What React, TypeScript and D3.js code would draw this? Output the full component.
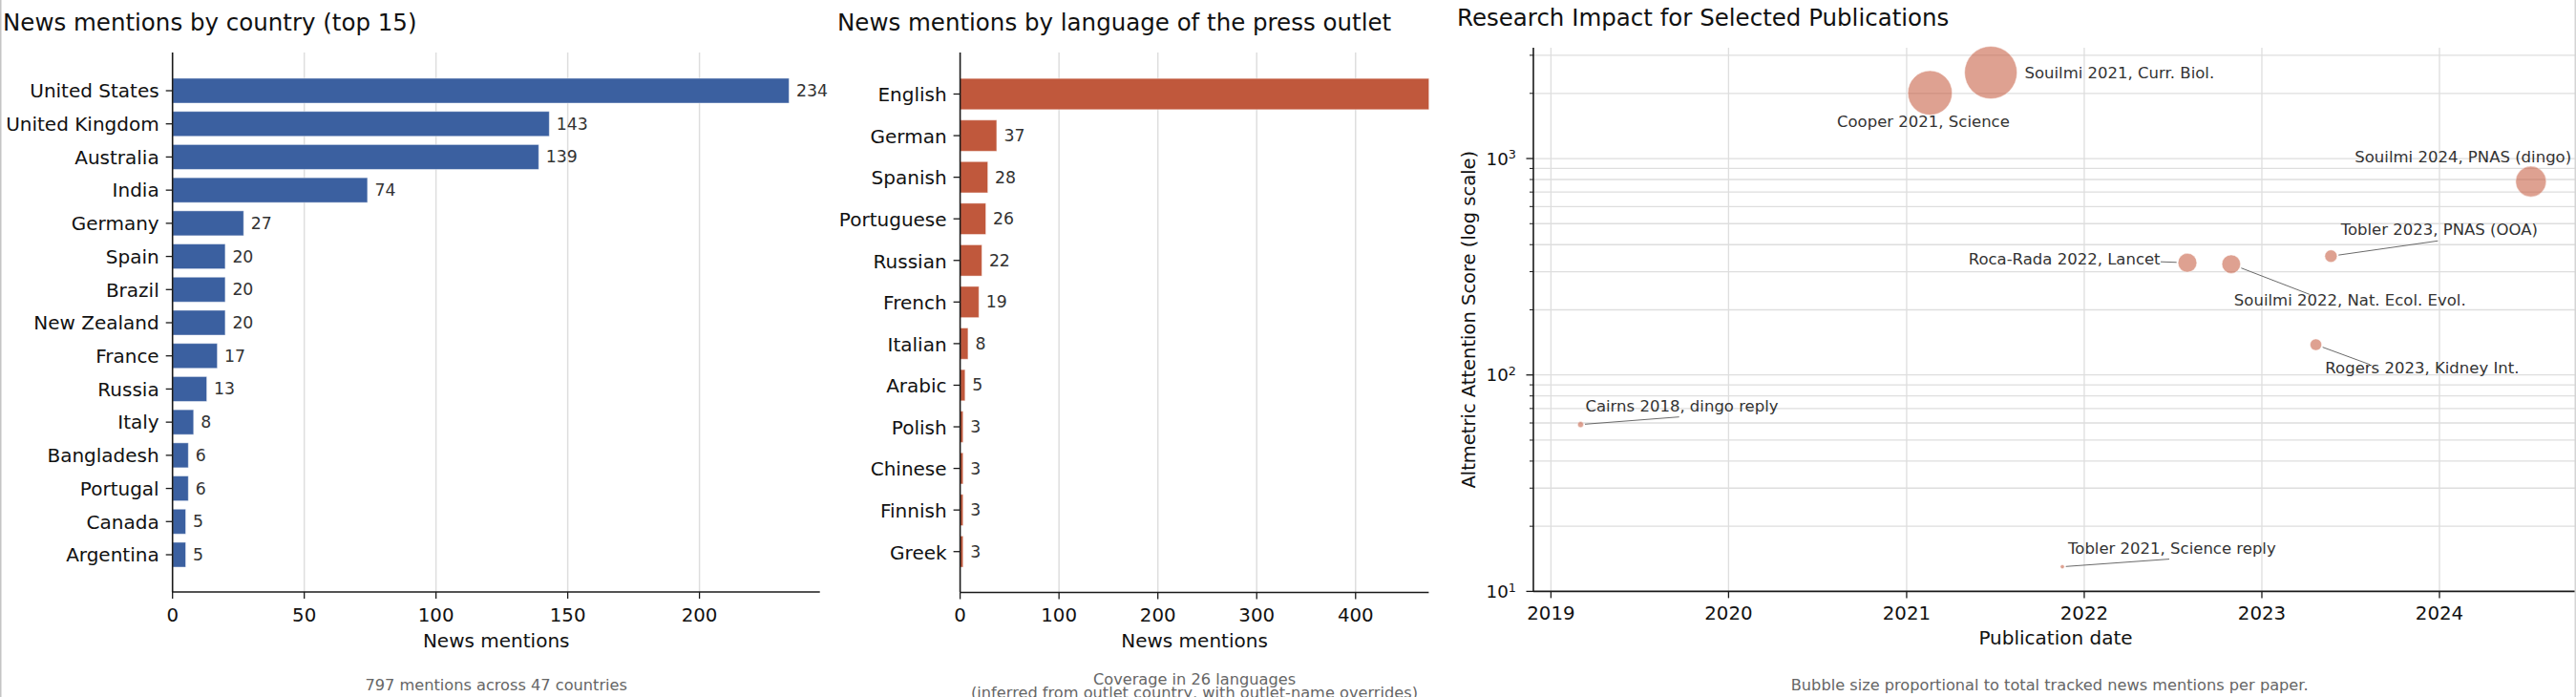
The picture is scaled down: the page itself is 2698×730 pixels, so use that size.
import React from "react";
import * as d3 from "d3";

// ---------------- DATA ----------------
const countries = [
  "United States", "United Kingdom", "Australia", "India", "Germany", "Spain", "Brazil",
  "New Zealand", "France", "Russia", "Italy", "Bangladesh", "Portugal", "Canada", "Argentina",
];
const countryMentions = [234, 143, 139, 74, 27, 20, 20, 20, 17, 13, 8, 6, 6, 5, 5];
const countryTicks = [0, 50, 100, 150, 200];

const languages = [
  "English", "German", "Spanish", "Portuguese", "Russian", "French", "Italian", "Arabic",
  "Polish", "Chinese", "Finnish", "Greek",
];
const languageMentions = [620, 37, 28, 26, 22, 19, 8, 5, 3, 3, 3, 3];
const languageTicks = [0, 100, 200, 300, 400];

const paperLabels = [
  "Cooper 2021, Science",
  "Souilmi 2021, Curr. Biol.",
  "Souilmi 2024, PNAS (dingo)",
  "Tobler 2023, PNAS (OOA)",
  "Roca-Rada 2022, Lancet",
  "Souilmi 2022, Nat. Ecol. Evol.",
  "Rogers 2023, Kidney Int.",
  "Cairns 2018, dingo reply",
  "Tobler 2021, Science reply",
];
const paperDates = [
  "2021-02-18", "2021-06-23", "2024-07-07", "2023-05-23", "2022-08-01",
  "2022-10-30", "2023-04-22", "2019-03-03", "2021-11-17",
];
const paperScores = [2010, 2495, 783, 354, 330, 325, 138, 59, 13];
const paperMentions = [233, 327, 111, 18, 42, 41, 16, 4, 2];
const yearTicks = [2019, 2020, 2021, 2022, 2023, 2024];
const scoreMajorTicks = [10, 100, 1000];
const scoreMajorExp = ["1", "2", "3"];

// label placement (pixel offsets from bubble centre) – layout only
const labelLayout = [
  { anchor: "middle", dx: -7, dy: 35.4 },
  { anchor: "start", dx: 35.4, dy: 5.7 },
  { anchor: "start", dx: -184.5, dy: -20 },
  { anchor: "start", dx: 10.3, dy: -22.3, lx: 112, ly: -16 },
  { anchor: "end", dx: -28.4, dy: 2.3, lx: -28, ly: -1 },
  { anchor: "start", dx: 3, dy: 43.3, lx: 82, ly: 31.6 },
  { anchor: "start", dx: 9.8, dy: 29.7, lx: 56.3, ly: 20.7 },
  { anchor: "start", dx: 4.9, dy: -13.3, lx: 103.2, ly: -8 },
  { anchor: "start", dx: 6, dy: -14, lx: 112, ly: -8 },
];

// ---------------- STYLE ----------------
const FONT = "'DejaVu Sans', Verdana, sans-serif";
const BLUE = "#3b60a0";
const RUST = "#c0583c";
const GRID = "#dedede";
const AXIS = "#1a1a1a";
const TXT = "#111";
const VAL = "#333";
const FOOT = "#666";

const W = 2698;
const H = 730;

function BarPanel({
  cats, vals, ticks, xDomain, left, right, top, bottom, bandTop, bandBottom, color,
  title, titleX, footLines, footY, footGap, labelDy, clipId, clipRight,
}: any) {
  const x = d3.scaleLinear().domain(xDomain).range([left, right]);
  const y = d3.scaleBand().domain(cats).range([bandTop, bandBottom]).paddingInner(0.25).paddingOuter(0.125);
  const bw = y.bandwidth();
  const cx = (left + right) / 2;
  return (
    <g>
      <defs>
        <clipPath id={clipId + "-ax"}>
          <rect x={left} y={top} width={right - left} height={bottom - top} />
        </clipPath>
        <clipPath id={clipId + "-panel"}>
          <rect x={0} y={0} width={clipRight} height={H} />
        </clipPath>
      </defs>
      <text x={titleX} y={31.7} fontSize={24.5} fill={TXT} fontFamily={FONT}>{title}</text>
      {ticks.filter((t: number) => t > 0).map((t: number) => (
        <line key={"g" + t} x1={x(t)} x2={x(t)} y1={top} y2={bottom} stroke={GRID} strokeWidth={1.5} />
      ))}
      <g clipPath={`url(#${clipId}-ax)`}>
        {cats.map((c: string, i: number) => (
          <rect key={c} x={x(0)} y={y(c)} width={Math.max(0, x(vals[i]) - x(0))} height={bw}
            fill={color} stroke="#fff" strokeOpacity={0.45} strokeWidth={1} />
        ))}
      </g>
      <g clipPath={`url(#${clipId}-panel)`}>
        {cats.map((c: string, i: number) => (
          <text key={"v" + c} x={x(vals[i]) + 7.5} y={(y(c) as number) + bw / 2 + 6}
            fontSize={17.3} fill={VAL} fontFamily={FONT}>{vals[i]}</text>
        ))}
      </g>
      {cats.map((c: string) => {
        const cy = (y(c) as number) + bw / 2;
        return (
          <g key={"t" + c}>
            <line x1={left - 7} x2={left} y1={cy} y2={cy} stroke={AXIS} strokeWidth={1.3} />
            <text x={left - 14} y={cy + labelDy} textAnchor="end" fontSize={20} fill={TXT} fontFamily={FONT}>{c}</text>
          </g>
        );
      })}
      {ticks.map((t: number) => (
        <g key={"x" + t}>
          <line x1={x(t)} x2={x(t)} y1={bottom} y2={bottom + 7} stroke={AXIS} strokeWidth={1.3} />
          <text x={x(t)} y={650.7} textAnchor="middle" fontSize={19.8} fill={TXT} fontFamily={FONT}>{t}</text>
        </g>
      ))}
      <line x1={left} x2={left} y1={top} y2={bottom} stroke={AXIS} strokeWidth={1.6} />
      <line x1={left} x2={right} y1={bottom} y2={bottom} stroke={AXIS} strokeWidth={1.6} />
      <text x={cx} y={678} textAnchor="middle" fontSize={20} fill={TXT} fontFamily={FONT}>News mentions</text>
      {footLines.map((l: string, i: number) => (
        <text key={l} x={cx} y={footY + i * (footGap || 18.8)} textAnchor="middle" fontSize={16.2} fill={FOOT} fontFamily={FONT}>{l}</text>
      ))}
    </g>
  );
}

function BubblePanel() {
  const left = 1606, right = 2698, top = 50, bottom = 619.4;
  const x = d3.scaleTime()
    .domain([new Date(2019, 0, 1), new Date(2024, 0, 1)])
    .range([1624.4, 2555]);
  const y = d3.scaleLog().domain([10, 3250]).range([bottom, top]);
  const r = d3.scaleSqrt().domain([0, 327]).range([0, 27.5]);
  const gridY = y.ticks().filter((v) => v > 10 && v <= 3250);
  const minorY = y.ticks().filter((v) => !scoreMajorTicks.includes(v));
  const pts = paperLabels.map((label, i) => {
    const [yy, mm, dd] = paperDates[i].split("-").map(Number);
    return {
      label,
      cx: x(new Date(yy, mm - 1, dd)),
      cy: y(paperScores[i]),
      rr: r(paperMentions[i]),
      lay: labelLayout[i] as any,
    };
  });
  const order = pts.slice().sort((a, b) => b.rr - a.rr);
  return (
    <g>
      <text x={1526} y={26.5} fontSize={24.5} fill={TXT} fontFamily={FONT}>Research Impact for Selected Publications</text>
      {yearTicks.map((yr) => {
        const px = x(new Date(yr, 0, 1));
        return <line key={"gx" + yr} x1={px} x2={px} y1={top} y2={bottom} stroke={GRID} strokeWidth={1.3} />;
      })}
      {gridY.map((v) => (
        <line key={"gy" + v} x1={left} x2={right} y1={y(v)} y2={y(v)} stroke={GRID} strokeWidth={1.3} />
      ))}
      {/* leader lines */}
      {pts.map((p) => {
        if (p.lay.lx === undefined) return null;
        const ex = p.cx + p.lay.lx, ey = p.cy + p.lay.ly;
        const dx = ex - p.cx, dy = ey - p.cy;
        const len = Math.hypot(dx, dy);
        const sx = p.cx + (dx / len) * (p.rr + 1.5);
        const sy = p.cy + (dy / len) * (p.rr + 1.5);
        return <line key={"l" + p.label} x1={sx} y1={sy} x2={ex} y2={ey} stroke="#6a6a6a" strokeWidth={1} />;
      })}
      {order.map((p) => (
        <circle key={"c" + p.label} cx={p.cx} cy={p.cy} r={Math.max(p.rr, 1.6)} fill="#c55a3d" fillOpacity={0.57}
          stroke="#fff" strokeOpacity={0.6} strokeWidth={0.8} />
      ))}
      {pts.map((p) => (
        <text key={"t" + p.label} x={p.cx + p.lay.dx} y={p.cy + p.lay.dy} textAnchor={p.lay.anchor}
          fontSize={16.5} fill={VAL} fontFamily={FONT}>{p.label}</text>
      ))}
      {/* y axis */}
      {minorY.map((v) => (
        <line key={"my" + v} x1={left - 4} x2={left} y1={y(v)} y2={y(v)} stroke={AXIS} strokeWidth={1} />
      ))}
      {scoreMajorTicks.map((v, i) => (
        <g key={"My" + v}>
          <line x1={left - 7.5} x2={left} y1={y(v)} y2={y(v)} stroke={AXIS} strokeWidth={1.3} />
          <text x={1588} y={y(v) + 6.7} textAnchor="end" fill={TXT} fontFamily={FONT} fontSize={18.3}>
            10<tspan fontSize={12.8} dy={-6.5}>{scoreMajorExp[i]}</tspan>
          </text>
        </g>
      ))}
      {yearTicks.map((yr) => {
        const px = x(new Date(yr, 0, 1));
        return (
          <g key={"xt" + yr}>
            <line x1={px} x2={px} y1={bottom} y2={bottom + 7} stroke={AXIS} strokeWidth={1.3} />
            <text x={px} y={648.5} textAnchor="middle" fontSize={19.8} fill={TXT} fontFamily={FONT}>{yr}</text>
          </g>
        );
      })}
      <line x1={left} x2={left} y1={top} y2={bottom} stroke={AXIS} strokeWidth={1.6} />
      <line x1={left} x2={right} y1={bottom} y2={bottom} stroke={AXIS} strokeWidth={1.6} />
      <text x={2153} y={675} textAnchor="middle" fontSize={20} fill={TXT} fontFamily={FONT}>Publication date</text>
      <text transform={`translate(1544.5, ${(top + bottom) / 2}) rotate(-90)`} textAnchor="middle" fontSize={19.5}
        fill={TXT} fontFamily={FONT}>Altmetric Attention Score (log scale)</text>
      <text x={2146.7} y={722.7} textAnchor="middle" fontSize={16.2} fill={FOOT} fontFamily={FONT}>
        Bubble size proportional to total tracked news mentions per paper.
      </text>
    </g>
  );
}

export default function App() {
  return (
    <div style={{ position: "absolute", left: 0, top: 0, width: W, height: H, background: "#fff" }}>
      <svg width={W} height={H} viewBox={`0 0 ${W} ${H}`} style={{ display: "block" }}>
        <rect x={0} y={0} width={W} height={H} fill="#fff" />
        <BarPanel
          cats={countries} vals={countryMentions} ticks={countryTicks} xDomain={[0, 245.7]}
          left={180.7} right={858.7} top={55} bottom={620} bandTop={77.65} bandBottom={598.35}
          color={BLUE} title="News mentions by country (top 15)" titleX={3}
          footLines={["797 mentions across 47 countries"]} footY={722.7} labelDy={7.3}
          clipId="p1" clipRight={2698}
        />
        <BarPanel
          cats={languages} vals={languageMentions} ticks={languageTicks} xDomain={[0, 474]}
          left={1005.6} right={1496.4} top={55} bottom={620.5} bandTop={76.7} bandBottom={599.5}
          color={RUST} title="News mentions by language of the press outlet" titleX={877}
          footLines={["Coverage in 26 languages", "(inferred from outlet country, with outlet-name overrides)"]}
          footY={716.5} footGap={14} labelDy={7.8} clipId="p2" clipRight={1515}
        />
        <BubblePanel />
        <line x1={0.75} x2={0.75} y1={0} y2={H} stroke="#c4c4c4" strokeWidth={1.5} />
        <line x1={2697.25} x2={2697.25} y1={0} y2={H} stroke="#d4d4d4" strokeWidth={1.5} />
      </svg>
    </div>
  );
}
